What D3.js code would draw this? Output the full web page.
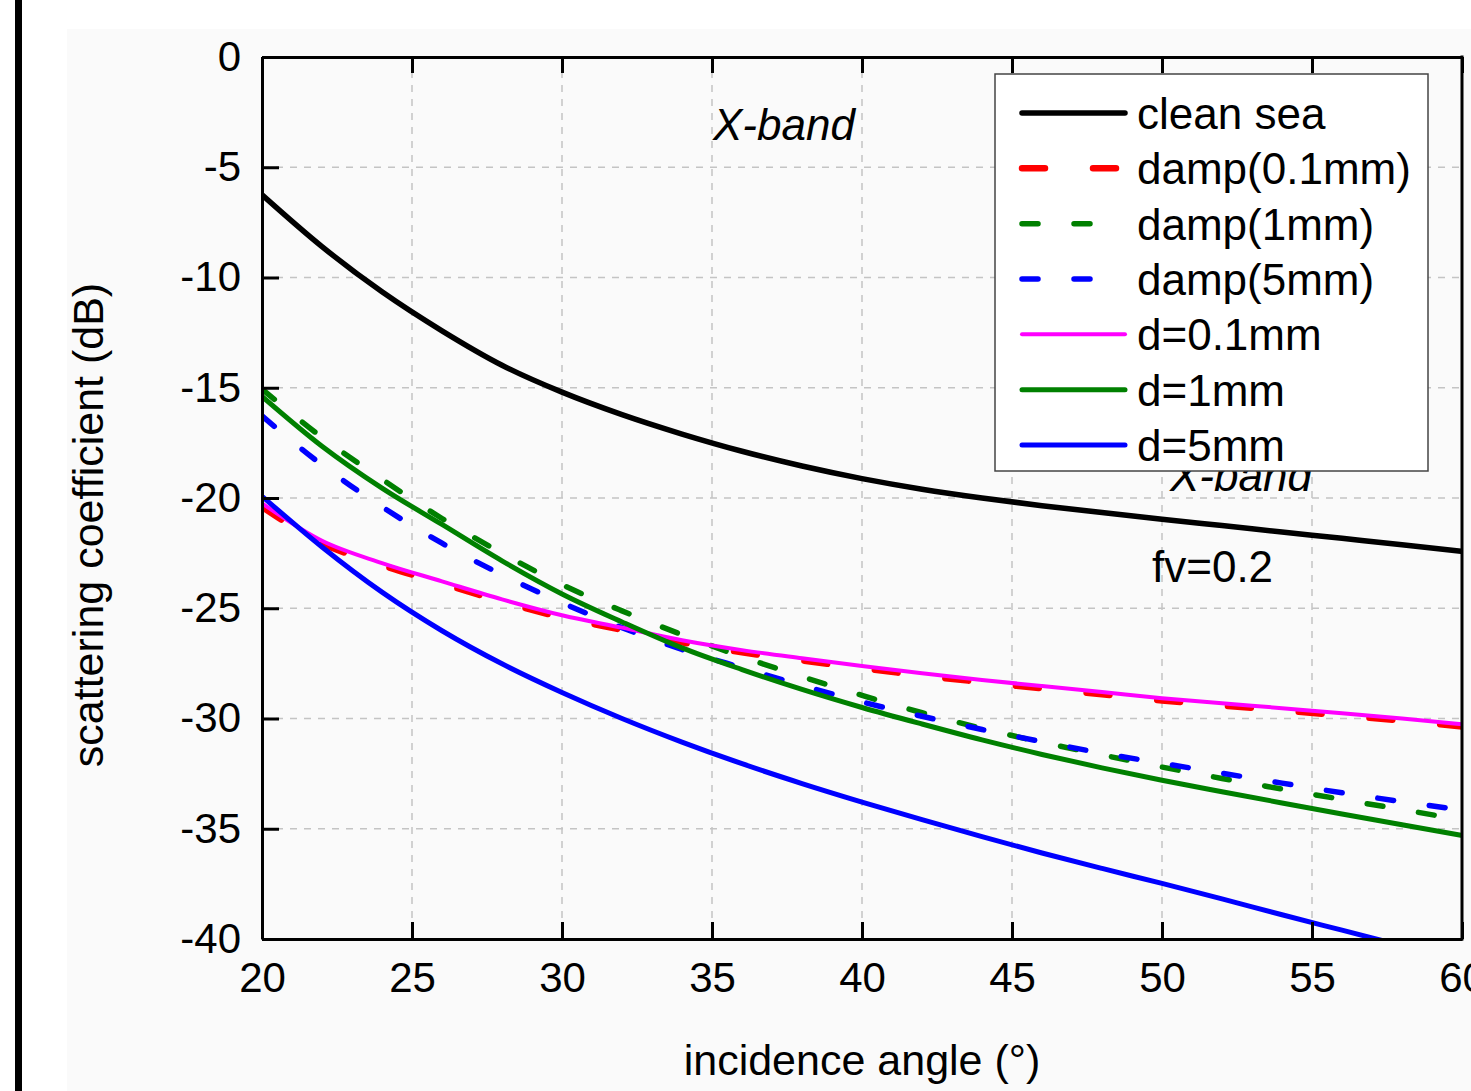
<!DOCTYPE html>
<html>
<head>
<meta charset="utf-8">
<script src="https://cdn.jsdelivr.net/npm/d3@7/dist/d3.min.js"></script>
<style>
  html, body { margin: 0; padding: 0; background: #ffffff; }
  svg { display: block; }
  text { font-family: "Liberation Sans", Arial, Helvetica, sans-serif; fill: #000; }
</style>
</head>
<body>
<svg id="chart" width="1471" height="1091"></svg>
<script>
// ---- data ----
const angles = [20, 22, 24, 26, 28, 30, 32, 34, 36, 38, 40, 42, 44, 46, 48, 50, 52, 54, 56, 58, 60];
const cleanSea = [-6.25, -8.6, -10.65, -12.42, -13.98, -15.2, -16.22, -17.1, -17.88, -18.55, -19.12, -19.6, -20.0, -20.35, -20.66, -20.96, -21.25, -21.54, -21.83, -22.12, -22.42];
const damp01 = [-20.4, -22.05, -23.05, -23.88, -24.7, -25.42, -25.98, -26.55, -27.0, -27.37, -27.72, -28.05, -28.35, -28.63, -28.9, -29.18, -29.41, -29.63, -29.86, -30.1, -30.36];
const damp1 = [-15.06, -17.25, -19.15, -20.93, -22.5, -23.93, -25.12, -26.2, -27.2, -28.1, -28.95, -29.74, -30.45, -31.08, -31.65, -32.2, -32.72, -33.2, -33.67, -34.13, -34.6];
const damp5 = [-16.28, -18.5, -20.4, -22.05, -23.48, -24.75, -25.88, -26.87, -27.7, -28.5, -29.25, -29.9, -30.5, -31.05, -31.57, -32.03, -32.48, -32.93, -33.37, -33.77, -34.15];
const d01 = [-20.24, -21.94, -22.95, -23.78, -24.6, -25.32, -25.88, -26.45, -26.9, -27.27, -27.62, -27.95, -28.25, -28.53, -28.8, -29.08, -29.31, -29.53, -29.76, -30.0, -30.26];
const d1 = [-15.39, -17.65, -19.55, -21.2, -22.85, -24.35, -25.62, -26.8, -27.78, -28.68, -29.5, -30.25, -30.97, -31.63, -32.24, -32.8, -33.32, -33.83, -34.33, -34.82, -35.3];
const d5 = [-19.92, -22.22, -24.27, -26.02, -27.52, -28.82, -30.0, -31.07, -32.05, -32.95, -33.79, -34.59, -35.36, -36.1, -36.8, -37.48, -38.18, -38.9, -39.6, -40.3, -41.0];

const seriesNames = ["clean sea", "damp(0.1mm)", "damp(1mm)", "damp(5mm)", "d=0.1mm", "d=1mm", "d=5mm"];
const seriesValues = [cleanSea, damp01, damp1, damp5, d01, d1, d5];
const seriesColors = ["#000000", "#ff0000", "#008000", "#0000ff", "#ff00ff", "#008000", "#0000ff"];
const seriesWidths = [5.5, 6.5, 5.5, 5.5, 4, 5, 5];
const seriesDashes = [null, "23 48", "16 36", "16 36", null, null, null];

const xTicks = [20, 25, 30, 35, 40, 45, 50, 55, 60];
const yTicks = [0, -5, -10, -15, -20, -25, -30, -35, -40];
const xTitle = "incidence angle (°)";
const yTitle = "scattering coefficient (dB)";

// ---- layout ----
const svg = d3.select("#chart");
const L = 262, R = 1462, T = 57, B = 939;
const x = d3.scaleLinear().domain([20, 60]).range([L, R]);
const y = d3.scaleLinear().domain([0, -40]).range([T, B]);

// backgrounds
svg.append("rect").attr("x", 0).attr("y", 0).attr("width", 1471).attr("height", 1091).attr("fill", "#ffffff");
svg.append("rect").attr("x", 67).attr("y", 29).attr("width", 1404).attr("height", 1062).attr("fill", "#fafafa");
svg.append("rect").attr("x", 15).attr("y", 0).attr("width", 7).attr("height", 1091).attr("fill", "#000");

// grid
const grid = svg.append("g").attr("stroke", "#c4c4c4").attr("stroke-width", 1.5).attr("stroke-dasharray", "7 7");
grid.selectAll("line.gx").data(xTicks.slice(1, -1)).join("line")
  .attr("x1", d => x(d)).attr("x2", d => x(d)).attr("y1", T).attr("y2", B);
grid.selectAll("line.gy").data(yTicks.slice(1, -1)).join("line")
  .attr("x1", L).attr("x2", R).attr("y1", d => y(d)).attr("y2", d => y(d));

// clip
svg.append("clipPath").attr("id", "plotclip").append("rect")
  .attr("x", L).attr("y", T).attr("width", R - L).attr("height", B - T);

// annotation texts (the second X-band sits behind the legend, as in the reference)
svg.append("text").attr("x", 713).attr("y", 140).attr("font-size", 44).attr("font-style", "italic").text("X-band");
svg.append("text").attr("x", 1170).attr("y", 491).attr("font-size", 44).attr("font-style", "italic").text("X-band");
svg.append("text").attr("x", 1152).attr("y", 582).attr("font-size", 44).text("fv=0.2");

// lines
const line = d3.line().x((d, i) => x(angles[i])).y(d => y(d)).curve(d3.curveMonotoneX);
const plot = svg.append("g").attr("clip-path", "url(#plotclip)");
seriesValues.forEach((vals, k) => {
  plot.append("path").datum(vals)
    .attr("d", line)
    .attr("fill", "none")
    .attr("stroke", seriesColors[k])
    .attr("stroke-width", seriesWidths[k])
    .attr("stroke-linecap", "round")
    .attr("stroke-linejoin", "round")
    .attr("stroke-dasharray", seriesDashes[k]);
});

// axes
const fmt = d => String(d);
const axL = svg.append("g").attr("transform", `translate(${L},0)`)
  .call(d3.axisLeft(y).tickValues(yTicks).tickFormat(fmt).tickSizeInner(-17).tickSizeOuter(0).tickPadding(21));
const axB = svg.append("g").attr("transform", `translate(0,${B})`)
  .call(d3.axisBottom(x).tickValues(xTicks).tickFormat(fmt).tickSizeInner(-17).tickSizeOuter(0).tickPadding(23));
const axT = svg.append("g").attr("transform", `translate(0,${T})`)
  .call(d3.axisTop(x).tickValues(xTicks).tickFormat("").tickSizeInner(-16).tickSizeOuter(0));
[axL, axB, axT].forEach(g => {
  g.selectAll("path.domain").attr("stroke", "#000").attr("stroke-width", 3);
  g.selectAll(".tick line").attr("stroke", "#000").attr("stroke-width", 3);
  g.selectAll(".tick text").attr("font-size", 42).attr("fill", "#000")
    .style("font-family", '"Liberation Sans", Arial, sans-serif');
});
// right frame
svg.append("line").attr("x1", R).attr("x2", R).attr("y1", T - 1.5).attr("y2", B + 1.5)
  .attr("stroke", "#000").attr("stroke-width", 3);

// axis titles
svg.append("text").attr("x", 862).attr("y", 1075).attr("text-anchor", "middle").attr("font-size", 43).text(xTitle);
svg.append("text").attr("transform", "translate(103,525) rotate(-90)").attr("text-anchor", "middle").attr("font-size", 43).text(yTitle);

// legend
const lg = svg.append("g");
lg.append("rect").attr("x", 995).attr("y", 74).attr("width", 433).attr("height", 397)
  .attr("fill", "#ffffff").attr("stroke", "#444").attr("stroke-width", 1.5);
const rowY = d3.scaleLinear().domain([0, 6]).range([113, 445]);
seriesNames.forEach((name, k) => {
  const yy = rowY(k);
  lg.append("line").attr("x1", 1022).attr("x2", 1125).attr("y1", yy).attr("y2", yy)
    .attr("stroke", seriesColors[k]).attr("stroke-width", seriesWidths[k])
    .attr("stroke-linecap", "round").attr("stroke-dasharray", seriesDashes[k]);
  lg.append("text").attr("x", 1137).attr("y", yy + 16).attr("font-size", 44).text(name);
});
</script>
</body>
</html>
